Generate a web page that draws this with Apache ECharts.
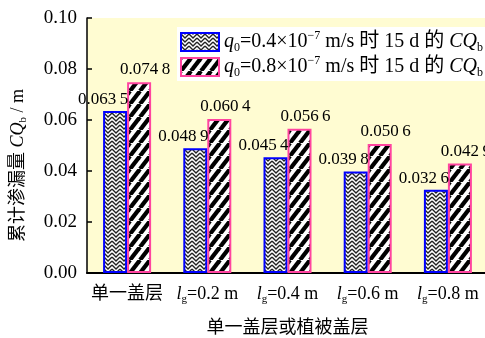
<!DOCTYPE html>
<html><head><meta charset="utf-8">
<script src="https://cdn.jsdelivr.net/npm/echarts@6/dist/echarts.min.js"></script>
<style>html,body{margin:0;padding:0;background:#fff}#c{width:485px;height:338px}</style>
</head><body><div id="c"></div>
<script>
var categories = ['单一盖层', 'lg=0.2 m', 'lg=0.4 m', 'lg=0.6 m', 'lg=0.8 m'];
var seriesLow = [0.0635, 0.0489, 0.0454, 0.0398, 0.0326];
var seriesHigh = [0.0748, 0.0604, 0.0566, 0.0506, 0.0429];
var yTicks = [0, 0.02, 0.04, 0.06, 0.08, 0.10];
var legendNames = ['q0=0.4×10−7 m/s 时 15 d 的 CQb', 'q0=0.8×10−7 m/s 时 15 d 的 CQb'];

var FONT = '"Liberation Serif","Noto Sans CJK SC",serif';

function stripePattern() {
  var c = document.createElement('canvas');
  c.width = 10; c.height = 13;
  var g = c.getContext('2d');
  g.fillStyle = '#fff'; g.fillRect(0, 0, 10, 13);
  g.strokeStyle = '#000'; g.lineWidth = 4.2;
  for (var k = -1; k <= 1; k++) {
    g.beginPath(); g.moveTo(k * 10, 13); g.lineTo(k * 10 + 10, 0); g.stroke();
  }
  return c;
}
function herringPattern() {
  var c = document.createElement('canvas');
  c.width = 8; c.height = 8;
  var g = c.getContext('2d');
  g.fillStyle = '#fff'; g.fillRect(0, 0, 8, 8);
  g.strokeStyle = '#222'; g.lineWidth = 1.4;
  g.beginPath(); g.moveTo(0, 1); g.lineTo(4, 5); g.lineTo(8, 1); g.stroke();
  g.beginPath(); g.moveTo(0, 5); g.lineTo(4, 9); g.lineTo(8, 5); g.stroke();
  g.beginPath(); g.moveTo(0, -3); g.lineTo(4, 1); g.lineTo(8, -3); g.stroke();
  return c;
}

function mkRich(size) {
  var sub = Math.round(size * 0.62);
  var L = size + 6, sl = sub + 2, p = L - sl;
  return {
    n: {fontFamily: FONT, fontSize: size, color: '#000', lineHeight: L},
    i: {fontFamily: FONT, fontStyle: 'italic', fontSize: size, color: '#000', lineHeight: L},
    s: {fontFamily: FONT, fontSize: sub, color: '#000', lineHeight: sl, padding: [p, 0, 0, 0]},
    sup: {fontFamily: FONT, fontSize: sub, color: '#000', lineHeight: sl, padding: [0, 0, p, 0]}
  };
}
function richName(s) {
  return '{i|q}{s|0}{n|=0.4×10}{sup|−7}{n| m/s 时 15 d 的 }{i|CQ}{s|b}'
    .replace('0.4', s.slice(3, 6));
}

var chart = echarts.init(document.getElementById('c'));
chart.setOption({
  animation: false,
  backgroundColor: '#fff',
  textStyle: {fontFamily: FONT},
  grid: {left: 87, top: 18, right: -3, bottom: 65, show: true, backgroundColor: '#fffcd2', borderWidth: 0,
    containLabel: false, outerBoundsMode: 'none'},
  legend: {
    data: legendNames, left: 177, top: 27, orient: 'vertical',
    backgroundColor: '#fff', padding: [3, 6, 2, 3], itemGap: 1,
    itemWidth: 38, itemHeight: 18, icon: 'rect',
    textStyle: {fontFamily: FONT, fontSize: 20, color: '#000', rich: mkRich(20)},
    formatter: function (n) { return richName(n); }
  },
  xAxis: {
    type: 'category', data: categories,
    name: '单一盖层或植被盖层', nameLocation: 'middle', nameGap: 46,
    nameTextStyle: {fontFamily: FONT, fontSize: 18, color: '#000'},
    axisLine: {lineStyle: {color: '#000', width: 2}},
    axisTick: {inside: true, length: 5, lineStyle: {color: '#000', width: 1.5}},
    axisLabel: {
      fontFamily: FONT, fontSize: 18, color: '#000', margin: 9, interval: 0, lineHeight: 24,
      rich: mkRich(18),
      formatter: function (v) {
        return v.indexOf('lg') === 0 ? '{i|l}{s|g}{n|' + v.slice(2) + '}' : '{n|' + v + '}';
      }
    }
  },
  yAxis: {
    type: 'value', min: yTicks[0], max: yTicks[yTicks.length - 1], interval: 0.02,
    name: '{n|累计渗漏量 }{i|CQ}{s|b}{n| / m}', nameLocation: 'middle', nameGap: 57, nameRotate: 90,
    nameTextStyle: {fontFamily: FONT, fontSize: 18, color: '#000', rich: mkRich(18), padding: [0, 40, 0, 0]},
    axisLine: {show: true, lineStyle: {color: '#000', width: 1.5}},
    axisTick: {show: true, inside: true, length: 5, lineStyle: {color: '#000', width: 1.5}},
    splitLine: {show: false},
    axisLabel: {fontFamily: FONT, fontSize: 19, color: '#000', margin: 10,
      formatter: function (v) { return v.toFixed(2); }}
  },
  series: [
    {
      name: legendNames[0], type: 'bar', data: seriesLow, barWidth: 24, barGap: '0%',
      itemStyle: {color: {image: herringPattern(), repeat: 'repeat'}, borderColor: '#0000ff', borderWidth: 2},
      label: {show: true, position: 'top', distance: 3, offset: [-12, 0],
        fontFamily: FONT, fontSize: 17, color: '#000',
        formatter: function (p) { var s = p.value.toFixed(4); return s.slice(0, 5) + '\u2009' + s.slice(5); }}
    },
    {
      name: legendNames[1], type: 'bar', data: seriesHigh, barWidth: 24, barGap: '0%',
      itemStyle: {color: {image: stripePattern(), repeat: 'repeat'}, borderColor: '#ff44a0', borderWidth: 2},
      label: {show: true, position: 'top', distance: 4, offset: [6, 0],
        fontFamily: FONT, fontSize: 17, color: '#000',
        formatter: function (p) { var s = p.value.toFixed(4); return s.slice(0, 5) + '\u2009' + s.slice(5); }}
    }
  ]
});
</script></body></html>
